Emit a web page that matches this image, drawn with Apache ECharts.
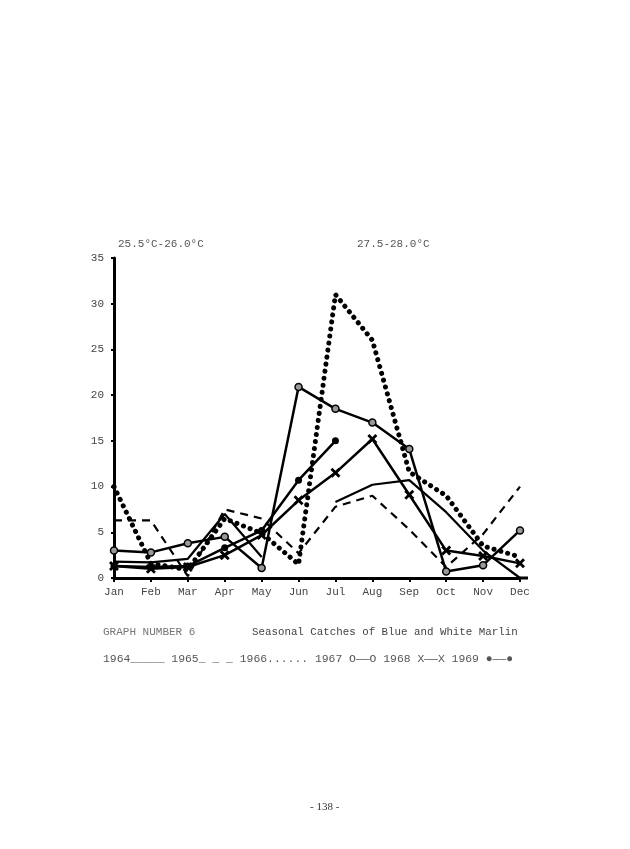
<!DOCTYPE html>
<html>
<head>
<meta charset="utf-8">
<script src="https://cdn.jsdelivr.net/npm/echarts@6/dist/echarts.min.js"></script>
<style>
html,body{margin:0;padding:0;background:#fff;}
#c{width:630px;height:849px;}
</style>
</head>
<body>
<div id="c"></div>
<script>
const months = ['Jan','Feb','Mar','Apr','May','Jun','Jul','Aug','Sep','Oct','Nov','Dec'];
const yTicks = [0,5,10,15,20,25,30,35];
const y1964 = [1.8, 1.7, 2.1, 7.0, 2.3, null, 8.3, 10.2, 10.7, 7.2, 3.0, 0];
const y1965 = [6.3, 6.3, 0.2, 7.5, 6.5, 2.7, 7.8, 9.0, 5.3, 1.2, 4.8, 10.0];
const y1966 = [10.0, 1.6, 0.9, 6.5, 4.9, 1.5, 31.0, 26.0, 11.6, 9.0, 3.5, 2.3];
const y1967 = [3.0, 2.8, 3.8, 4.5, 1.1, 20.9, 18.5, 17.0, 14.1, 0.7, 1.4, 5.2];
const y1968 = [1.3, 1.0, 1.2, 2.5, 4.7, 8.5, 11.5, 15.2, 9.1, 3.0, 2.4, 1.6];
const y1969 = [1.3, 1.2, 1.3, 3.3, 5.2, 10.7, 15.0];

const mono = '"Liberation Mono", "DejaVu Sans Mono", monospace';
const xSym = 'path://M0,2L2,0L5,3L8,0L10,2L7,5L10,8L8,10L5,7L2,10L0,8L3,5Z';

const chart = echarts.init(document.getElementById('c'), null, {renderer:'canvas'});
const base = {type:'line', animation:false, silent:true};
chart.setOption({
  backgroundColor:'#fff',
  animation:false,
  grid:{left:114, top:258, width:406, height:320, containLabel:false},
  xAxis:{
    type:'category', data:months, boundaryGap:false,
    axisLine:{lineStyle:{color:'#000', width:3}},
    axisTick:{show:true, length:4, lineStyle:{color:'#000', width:2}},
    axisLabel:{color:'#444', fontFamily:mono, fontSize:11, margin:9},
    splitLine:{show:false}
  },
  yAxis:{
    type:'value', min:yTicks[0], max:yTicks[yTicks.length-1], interval:5,
    axisLine:{show:true, lineStyle:{color:'#000', width:3}},
    axisTick:{show:true, length:3, lineStyle:{color:'#000', width:2}},
    axisLabel:{color:'#444', fontFamily:mono, fontSize:11, margin:10},
    splitLine:{show:false}
  },
  series:[
    Object.assign({}, base, {name:'1964', data:y1964, symbol:'none', connectNulls:false,
      lineStyle:{color:'#000', width:2.2}}),
    Object.assign({}, base, {name:'1965', data:y1965, symbol:'none',
      lineStyle:{color:'#000', width:2.2, type:[8,6]}}),
    Object.assign({}, base, {name:'1966', data:y1966, symbol:'none',
      lineStyle:{color:'#000', width:5, type:[0.1,7], cap:'round'}}),
    Object.assign({}, base, {name:'1967', data:y1967, symbol:'circle', symbolSize:7,
      itemStyle:{color:'#999', borderColor:'#000', borderWidth:1.5},
      lineStyle:{color:'#000', width:2.5}}),
    Object.assign({}, base, {name:'1968', data:y1968, symbol:xSym, symbolSize:10,
      itemStyle:{color:'#000'}, lineStyle:{color:'#000', width:2.5}}),
    Object.assign({}, base, {name:'1969', data:y1969, symbol:'circle', symbolSize:7,
      itemStyle:{color:'#000'}, lineStyle:{color:'#000', width:2.5}})
  ],
  graphic:[
    {type:'line', shape:{x1:520, y1:578, x2:528, y2:578}, style:{stroke:'#000', lineWidth:3}},
    {type:'text', left:118, top:239, style:{text:'25.5°C-26.0°C', fill:'#555', font:'11px '+mono}},
    {type:'text', left:357, top:239, style:{text:'27.5-28.0°C', fill:'#555', font:'11px '+mono}},
    {type:'text', left:103, top:627, style:{text:'GRAPH NUMBER 6', fill:'#777', font:'11px '+mono}},
    {type:'text', left:252, top:627, style:{text:'Seasonal Catches of Blue and White Marlin', fill:'#444', font:'10.8px '+mono}},
    {type:'text', left:103, top:653, style:{text:'1964_____ 1965_ _ _ 1966...... 1967 O——O 1968 X——X 1969 ●——●', fill:'#555', font:'11.4px '+mono}},
    {type:'text', left:310, top:802, style:{text:'- 138 -', fill:'#333', font:'11px "Liberation Serif", serif'}}
  ]
});
</script>
</body>
</html>
